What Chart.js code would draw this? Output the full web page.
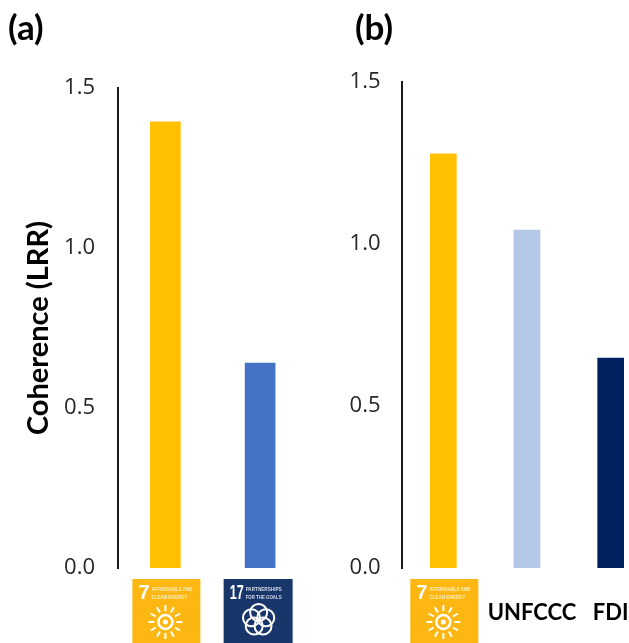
<!DOCTYPE html>
<html>
<head>
<meta charset="utf-8">
<title>Coherence (LRR)</title>
<script src="https://cdn.jsdelivr.net/npm/chart.js@4"></script>
<style>
  html, body { margin: 0; padding: 0; background: #fff; overflow: hidden; width: 629px; height: 643px; }
  canvas { position: absolute; top: 0; }
  #chartA { left: 0; }
  #chartB { left: 340px; }
</style>
</head>
<body>
<canvas id="chartA" width="320" height="643"></canvas>
<canvas id="chartB" width="313" height="643"></canvas>
<script>
const categoriesA = ['SDG 7', 'SDG 17'];
const valuesA = [1.394, 0.64];
const colorsA = ['#FFC000', '#4472C4'];

const categoriesB = ['SDG 7', 'UNFCCC', 'FDI'];
const valuesB = [1.278, 1.043, 0.648];
const colorsB = ['#FFC000', '#B4C7E7', '#002060'];

const yTicks = [0, 0.5, 1.0, 1.5];
const textFont = 'Lato, "Open Sans", sans-serif';
const tickFont = '"Open Sans", sans-serif';
const narrowFont = '"Liberation Sans Narrow", sans-serif';

function drawSdg7(ctx, cx) {
  const x = cx - 34, y = 579, w = 68, h = 64;
  ctx.fillStyle = '#FDB713';
  ctx.fillRect(x, y, w, h);
  ctx.fillStyle = '#fff';
  ctx.font = 'bold 20px ' + narrowFont;
  ctx.textAlign = 'left';
  ctx.textBaseline = 'middle';
  ctx.fillText('7', x + 6, y + 14);
  ctx.font = 'bold 6px ' + narrowFont;
  ctx.fillStyle = '#fff0c4';
  ctx.fillText('AFFORDABLE AND', x + 19, y + 10, 41);
  ctx.fillText('CLEAN ENERGY', x + 19, y + 18, 36);
  // sun
  const sx = x + 33, sy = y + 43;
  ctx.strokeStyle = '#fff';
  ctx.lineWidth = 2.5;
  ctx.beginPath();
  ctx.arc(sx, sy, 7, 0, Math.PI * 2);
  ctx.stroke();
  ctx.fillStyle = '#fff';
  ctx.beginPath();
  ctx.arc(sx, sy, 2.5, 0, Math.PI * 2);
  ctx.fill();
  ctx.lineWidth = 2;
  for (let i = 0; i < 12; i++) {
    const a = i * Math.PI / 6;
    ctx.beginPath();
    ctx.moveTo(sx + Math.cos(a) * 11, sy + Math.sin(a) * 11);
    ctx.lineTo(sx + Math.cos(a) * 17, sy + Math.sin(a) * 17);
    ctx.stroke();
  }
}

function drawSdg17(ctx, cx) {
  const x = cx - 34.5, y = 579, w = 69, h = 64;
  ctx.fillStyle = '#19366B';
  ctx.fillRect(x, y, w, h);
  ctx.fillStyle = '#fff';
  ctx.font = 'bold 20px ' + narrowFont;
  ctx.textAlign = 'left';
  ctx.textBaseline = 'middle';
  ctx.fillText('17', x + 6, y + 14, 14);
  ctx.font = 'bold 6px ' + narrowFont;
  ctx.fillStyle = '#d5dcea';
  ctx.fillText('PARTNERSHIPS', x + 22, y + 10, 36);
  ctx.fillText('FOR THE GOALS', x + 22, y + 18, 36);
  // flower rings
  const fx = x + 35, fy = y + 41;
  ctx.strokeStyle = '#fff';
  ctx.lineWidth = 2;
  for (let i = 0; i < 5; i++) {
    const a = -Math.PI / 2 + i * 2 * Math.PI / 5;
    ctx.beginPath();
    ctx.arc(fx + Math.cos(a) * 7.5, fy + Math.sin(a) * 7.5, 8.5, 0, Math.PI * 2);
    ctx.stroke();
  }
}

// things that sit under the bars: goal icons and the two text labels
const labelShift = { UNFCCC: 5, FDI: 0 };
const axisLabels = {
  id: 'axisLabels',
  afterDraw(chart) {
    const ctx = chart.ctx;
    const xs = chart.scales.x;
    ctx.save();
    chart.data.labels.forEach((name, i) => {
      const cx = xs.getPixelForValue(i);
      if (name === 'SDG 7') {
        drawSdg7(ctx, cx + 1);
      } else if (name === 'SDG 17') {
        drawSdg17(ctx, cx - 2);
      } else {
        ctx.fillStyle = '#000';
        ctx.font = 'bold 22px ' + textFont;
        ctx.textAlign = 'center';
        ctx.textBaseline = 'middle';
        ctx.fillText(name, cx + labelShift[name], 613);
      }
    });
    // panel letter
    const panel = chart.options.plugins.panelLabel;
    ctx.fillStyle = '#000';
    ctx.font = 'bold 35px ' + textFont;
    ctx.textAlign = 'left';
    ctx.textBaseline = 'middle';
    ctx.fillText(panel.text, panel.x, 29);
    ctx.restore();
  }
};

function makeChart(id, labels, values, colors, opts) {
  return new Chart(document.getElementById(id), {
    type: 'bar',
    data: {
      labels: labels,
      datasets: [{
        data: values,
        backgroundColor: colors,
        barThickness: opts.barWidth
      }]
    },
    plugins: [axisLabels],
    options: {
      responsive: false,
      animation: false,
      layout: { padding: { left: opts.leftPad, right: opts.rightPad, top: opts.topPad, bottom: 0 } },
      plugins: {
        legend: { display: false },
        tooltip: { enabled: false },
        title: { display: false },
        panelLabel: { text: opts.title, x: opts.titleX }
      },
      scales: {
        x: {
          grid: { display: false },
          border: { display: false },
          ticks: { display: false },
          afterFit(scale) { scale.height = 75; }
        },
        y: {
          min: 0,
          max: 1.5,
          afterFit(scale) { scale.width = opts.axisWidth; },
          afterBuildTicks(scale) { scale.ticks = yTicks.map(v => ({ value: v })); },
          grid: { display: false, drawTicks: false },
          border: { display: true, color: '#1a1a1a', width: 2 },
          title: {
            display: !!opts.yTitle,
            text: opts.yTitle,
            color: '#000',
            font: { family: textFont, size: 29, weight: 'bold', lineHeight: 1.2 },
            padding: { top: 13, bottom: 0 }
          },
          ticks: {
            padding: opts.tickPad,
            color: '#262626',
            font: { family: tickFont, size: 22 },
            callback: v => v.toFixed(1)
          }
        }
      }
    }
  });
}

makeChart('chartA', categoriesA, valuesA, colorsA, {
  title: '(a)', titleX: 8, barWidth: 30, leftPad: 8, axisWidth: 110, rightPad: 12.5, topPad: 88,
  tickPad: 23, yTitle: 'Coherence (LRR)'
});
makeChart('chartB', categoriesB, valuesB, colorsB, {
  title: '(b)', titleX: 15, barWidth: 26, leftPad: 0, axisWidth: 61.5, rightPad: 0.5, topPad: 82,
  tickPad: 21, yTitle: ''
});
</script>
</body>
</html>
